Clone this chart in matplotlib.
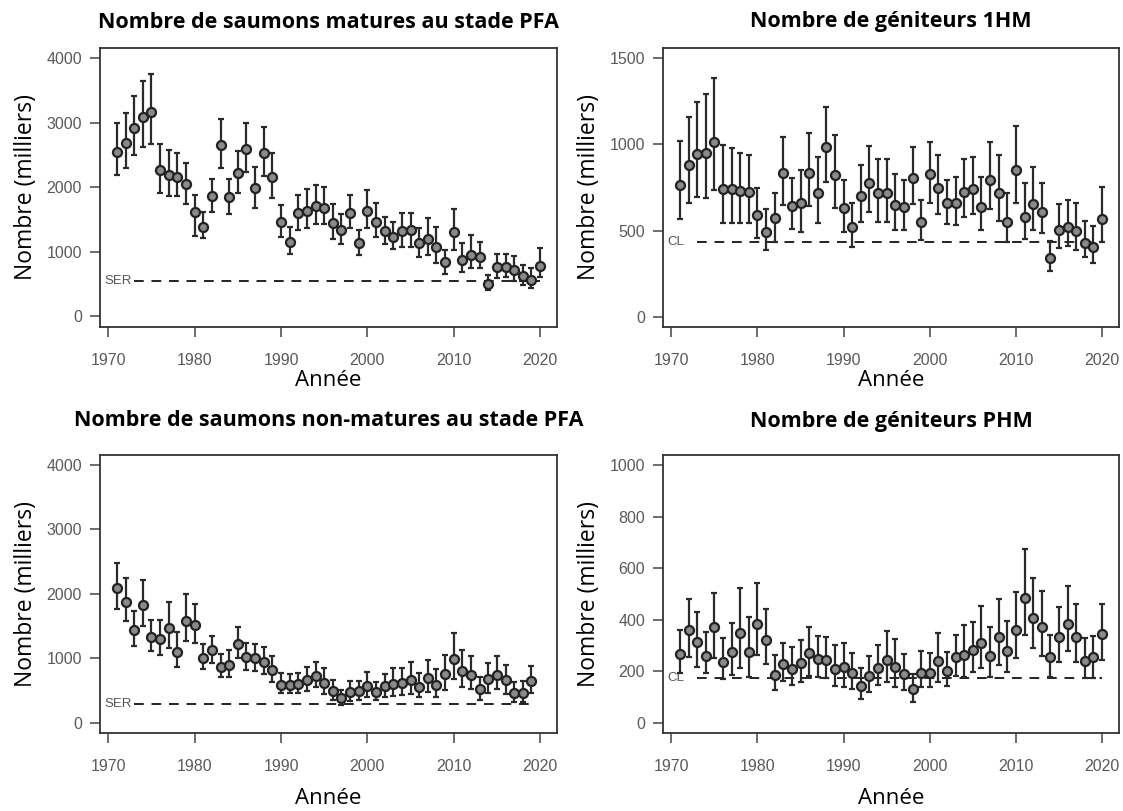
import numpy as np
import matplotlib.pyplot as plt

# ---- data (milliers) ----
years = np.arange(1971, 2021)
years_nm = np.arange(1971, 2020)

# matures PFA
mat_mid = [2548, 2687, 2910, 3080, 3160, 2264, 2186, 2160, 2041, 1617,
           1385, 1860, 2646, 1840, 2212, 2584, 1979, 2522, 2160, 1462,
           1152, 1592, 1633, 1705, 1670, 1437, 1333, 1602, 1127, 1633,
           1462, 1323, 1230, 1323, 1333, 1127, 1189, 1075, 832, 1297,
           868, 946, 920, 491, 755, 755, 713, 620, 558, 780]
mat_lo = [2186, 2290, 2496, 2625, 2667, 1902, 1860, 1860, 1736, 1240,
          1204, 1617, 2290, 1581, 1912, 2238, 1670, 2171, 1824, 1220,
          961, 1333, 1360, 1426, 1426, 1189, 1111, 1360, 946, 1360,
          1220, 1116, 1034, 1075, 1075, 920, 946, 817, 651, 1023,
          687, 739, 739, 403, 584, 600, 548, 481, 429, 600]
mat_hi = [2988, 3152, 3416, 3643, 3752, 2667, 2574, 2522, 2377, 1876,
          1617, 2119, 3049, 2119, 2563, 2988, 2315, 2936, 2532, 1721,
          1375, 1876, 1964, 2031, 1995, 1736, 1581, 1876, 1333, 1953,
          1747, 1530, 1462, 1602, 1602, 1360, 1514, 1385, 1023, 1654,
          1127, 1256, 1152, 636, 961, 961, 930, 791, 739, 1050]
ser_mat = 540

# geniteurs 1HM
hm1_mid = [765, 881, 943, 949, 1016, 740, 740, 732, 726, 591,
           494, 571, 833, 643, 659, 836, 720, 987, 823, 629,
           519, 701, 778, 716, 716, 649, 635, 804, 552, 829,
           746, 662, 662, 726, 740, 639, 794, 716, 552, 852,
           577, 654, 610, 339, 503, 523, 499, 430, 403, 565]
hm1_lo = [566, 658, 697, 688, 736, 546, 546, 546, 546, 455,
          387, 436, 649, 508, 494, 643, 546, 784, 629, 494,
          406, 552, 610, 552, 552, 503, 503, 654, 445, 662,
          596, 538, 532, 577, 596, 503, 624, 557, 436, 662,
          449, 503, 484, 267, 397, 410, 387, 345, 310, 436]
hm1_hi = [1022, 1161, 1249, 1291, 1384, 997, 978, 949, 939, 746,
          624, 720, 1045, 804, 852, 1069, 929, 1220, 1055, 793,
          658, 881, 991, 914, 914, 829, 793, 987, 677, 1016,
          939, 793, 809, 914, 929, 813, 1016, 939, 720, 1107,
          775, 871, 778, 441, 654, 677, 658, 557, 527, 751]
cl_1hm = 435

# non-matures PFA (1971-2019)
nm_mid = [2086, 1879, 1439, 1827, 1325, 1294, 1465, 1092, 1584, 1516,
          1009, 1128, 869, 895, 1221, 1014, 999, 947, 818, 585,
          585, 600, 662, 725, 621, 497, 378, 481, 497, 569,
          481, 569, 600, 611, 662, 559, 688, 585, 756, 983,
          807, 740, 518, 673, 740, 662, 466, 466, 652]
nm_lo = [1760, 1584, 1190, 1501, 1118, 1051, 1154, 869, 1273, 1242,
         828, 921, 704, 704, 999, 818, 807, 756, 637, 455,
         455, 455, 497, 549, 445, 352, 274, 342, 352, 393,
         352, 404, 414, 430, 445, 393, 481, 404, 507, 673,
         559, 518, 352, 466, 518, 445, 326, 326, 455]
nm_hi = [2474, 2241, 1734, 2215, 1594, 1594, 1879, 1413, 1998, 1842,
         1221, 1346, 1066, 1128, 1480, 1232, 1221, 1180, 1035, 776,
         756, 776, 869, 947, 844, 662, 507, 652, 652, 792,
         637, 756, 844, 844, 947, 776, 973, 828, 1051, 1387,
         1128, 1035, 714, 921, 1035, 895, 637, 652, 880]
ser_nm = 290

# geniteurs PHM
phm_mid = [267, 360, 314, 259, 370, 237, 276, 349, 276, 383,
           321, 185, 226, 207, 230, 269, 246, 243, 207, 217,
           191, 142, 181, 211, 243, 217, 189, 129, 194, 194,
           241, 202, 254, 263, 282, 310, 259, 331, 279, 360,
           483, 405, 370, 254, 331, 383, 331, 241, 254, 344]
phm_lo = [194, 256, 217, 191, 250, 168, 185, 211, 176, 263,
          228, 127, 163, 146, 159, 181, 176, 172, 142, 140,
          129, 91, 120, 146, 159, 137, 127, 82, 137, 137,
          159, 142, 181, 179, 198, 211, 179, 224, 198, 250,
          340, 288, 259, 179, 237, 279, 237, 172, 172, 243]
phm_hi = [360, 479, 431, 353, 502, 327, 388, 521, 409, 543,
          440, 263, 308, 295, 321, 373, 336, 331, 301, 310,
          272, 211, 259, 301, 357, 323, 266, 189, 279, 272,
          349, 276, 340, 379, 392, 453, 370, 479, 396, 508,
          673, 560, 512, 340, 450, 530, 461, 327, 336, 461]
cl_phm = 175

titles = ["Nombre de saumons matures au stade PFA", "Nombre de géniteurs 1HM",
          "Nombre de saumons non-matures au stade PFA", "Nombre de géniteurs PHM"]
xticks = [1970, 1980, 1990, 2000, 2010, 2020]

TXT = 'Open Sans'
TICKF = 'Liberation Sans'
W, H = 1123, 811


def panel(rect, x, mid, lo, hi, ref, reflab, yticks, ylim, title, title_y, annee_y):
    ax = fig.add_axes(rect)
    mid = np.array(mid); lo = np.array(lo); hi = np.array(hi)
    ax.plot([1973, x[-1]], [ref, ref], ls=(0, (5, 4)), color='#222222', lw=1.4, zorder=1)
    ax.text(1969.5, ref, reflab, fontsize=9.5, color='#555555', va='center', ha='left',
            family=TICKF)
    ax.errorbar(x, mid, yerr=[mid - lo, hi - mid], fmt='o', color='#2a2a2a', ecolor='#2a2a2a',
                elinewidth=1.6, capsize=2, capthick=1.4, ms=6.5, mfc='#8a8a8a', mec='#222222',
                mew=1.6, zorder=3)
    ax.set_xlim(1969.04, 2021.96)
    ax.set_ylim(*ylim)
    ax.set_xticks(xticks)
    ax.set_yticks(yticks)
    ax.tick_params(direction='out', length=7, width=1.1, color='#444444',
                   labelsize=11.5, labelcolor='#5a5a5a')
    ax.tick_params(axis='x', pad=12)
    ax.tick_params(axis='y', pad=6)
    for lab in ax.get_xticklabels() + ax.get_yticklabels():
        lab.set_family(TICKF)
    for s in ax.spines.values():
        s.set_color('#333333')
        s.set_linewidth(1.3)
    ax.set_ylabel('Nombre (milliers)', fontsize=16.5, family=TXT, labelpad=6)
    cx = rect[0] + rect[2] / 2
    fig.text(cx, 1 - title_y / H, title, fontsize=15.5, family=TXT, fontweight='bold',
             ha='center', va='center')
    fig.text(cx, 1 - annee_y / H, 'Année', fontsize=16, family=TXT, ha='center', va='center')
    return ax


fig = plt.figure(figsize=(11.23, 8.11), dpi=100)


def r(x0, x1, y0, y1):
    return [x0 / W, 1 - y1 / H, (x1 - x0) / W, (y1 - y0) / H]


panel(r(100, 557, 48, 327), years, mat_mid, mat_lo, mat_hi, ser_mat, 'SER',
      [0, 1000, 2000, 3000, 4000], (-170, 4155), titles[0], 22, 381)
panel(r(663, 1119, 48, 327), years, hm1_mid, hm1_lo, hm1_hi, cl_1hm, 'CL',
      [0, 500, 1000, 1500], (-60, 1560), titles[1], 22, 381)
panel(r(100, 557, 455, 733), years_nm, nm_mid, nm_lo, nm_hi, ser_nm, 'SER',
      [0, 1000, 2000, 3000, 4000], (-160, 4155), titles[2], 421, 798)
panel(r(663, 1119, 455, 733), years, phm_mid, phm_lo, phm_hi, cl_phm, 'CL',
      [0, 200, 400, 600, 800, 1000], (-40, 1039), titles[3], 421, 798)

fig.savefig('out.png', dpi=100, facecolor='white')
